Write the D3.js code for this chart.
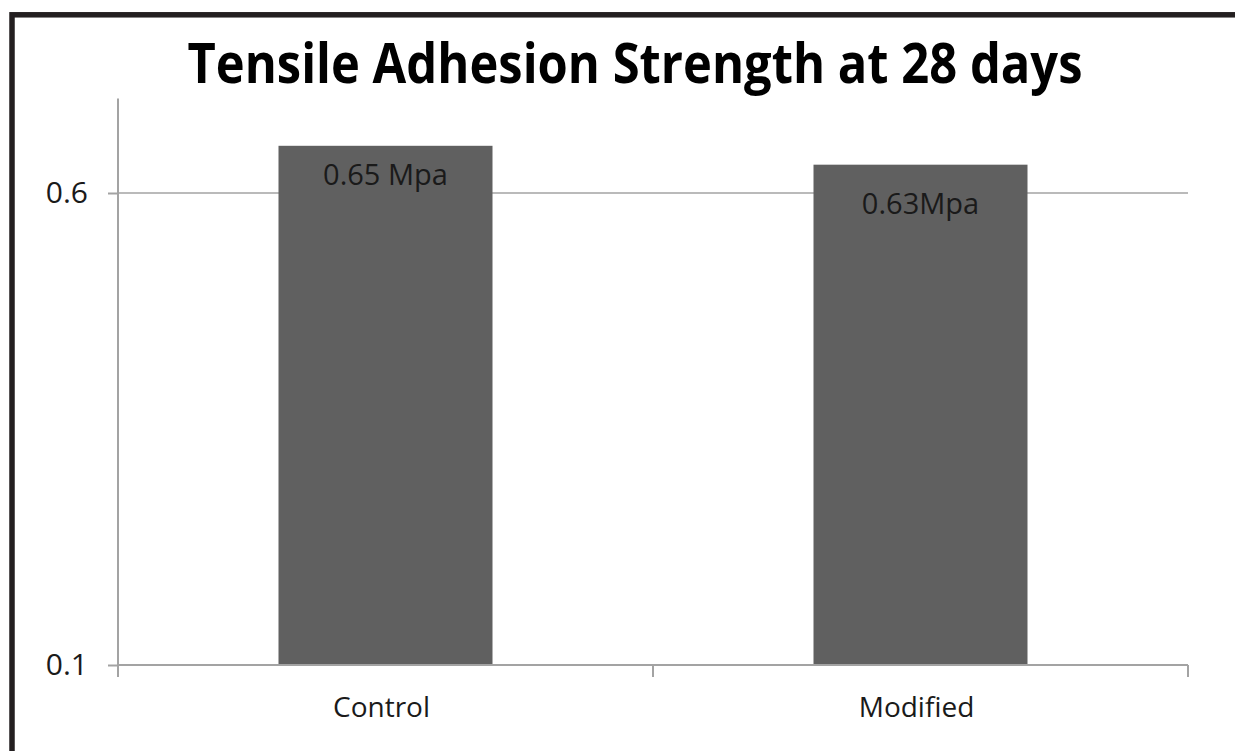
<!DOCTYPE html>
<html>
<head>
<meta charset="utf-8">
<script src="https://cdn.jsdelivr.net/npm/d3@7"></script>
<style>
  html, body { margin: 0; padding: 0; background: #ffffff; }
  svg { display: block; }
  text { font-family: "Open Sans", "Liberation Sans", sans-serif; }
</style>
</head>
<body>
<svg id="chart" width="1235" height="751"></svg>
<script>
// Tensile adhesion strength (MPa) after 28 days
const categories = ["Control", "Modified"];
const strengths = [0.65, 0.63];
const valueLabels = ["0.65 Mpa", "0.63Mpa"];
const yTicks = [0.1, 0.6];
const yDomain = [0.1, 0.7];
const titleText = "Tensile Adhesion Strength at 28 days";

const W = 1235, H = 751;
const plot = { left: 118, right: 1188, top: 98.6, bottom: 665 };

const svg = d3.select("#chart");

// Outer frame (runs past the right and bottom edges of the page)
svg.append("rect")
  .attr("x", 12).attr("y", 14.8)
  .attr("width", W + 20).attr("height", H + 20)
  .attr("fill", "none")
  .attr("stroke", "#231f20")
  .attr("stroke-width", 5.5);

// Title
svg.append("text")
  .attr("x", 635).attr("y", 83)
  .attr("text-anchor", "middle")
  .attr("font-size", 55)
  .attr("font-weight", 700)
  .attr("fill", "#000")
  .attr("textLength", 895)
  .attr("lengthAdjust", "spacingAndGlyphs")
  .text(titleText);

const x = d3.scaleBand()
  .domain(categories)
  .range([plot.left, plot.right])
  .paddingInner(0.6)
  .paddingOuter(0.3);

const y = d3.scaleLinear()
  .domain(yDomain)
  .range([plot.bottom, plot.top]);

const axisColor = "#a3a3a3";

// Horizontal gridlines (above the baseline)
svg.append("g")
  .selectAll("line")
  .data(yTicks.filter(t => t > yDomain[0]))
  .join("line")
  .attr("x1", plot.left).attr("x2", plot.right)
  .attr("y1", d => y(d)).attr("y2", d => y(d))
  .attr("stroke", axisColor)
  .attr("stroke-width", 1.5);

// Bars
svg.append("g")
  .selectAll("rect")
  .data(categories)
  .join("rect")
  .attr("x", d => x(d))
  .attr("width", x.bandwidth())
  .attr("y", (d, i) => y(strengths[i]))
  .attr("height", (d, i) => y(yDomain[0]) - y(strengths[i]))
  .attr("fill", "#606060");

// Value labels inside the bars
const labelDrop = [39, 49];
svg.append("g")
  .selectAll("text")
  .data(categories)
  .join("text")
  .attr("x", d => x(d) + x.bandwidth() / 2)
  .attr("y", (d, i) => y(strengths[i]) + labelDrop[i])
  .attr("text-anchor", "middle")
  .attr("font-size", 29)
  .attr("fill", "#1a1a1a")
  .text((d, i) => valueLabels[i]);

// Y axis
const yAxis = d3.axisLeft(y)
  .tickValues(yTicks)
  .tickSize(10)
  .tickPadding(20)
  .tickFormat(d3.format(".1f"));

const gy = svg.append("g")
  .attr("transform", `translate(${plot.left},0)`)
  .call(yAxis);
gy.select(".domain")
  .attr("d", `M0,${y(yDomain[1])}V${y(yDomain[0])}`)
  .attr("stroke", axisColor)
  .attr("stroke-width", 2);
gy.selectAll(".tick line").attr("stroke", axisColor).attr("stroke-width", 2);
gy.selectAll(".tick text")
  .attr("font-size", 30)
  .attr("fill", "#1a1a1a")
  .attr("font-family", "\"Open Sans\", sans-serif");

// X axis: baseline, category divider ticks and labels
const gx = svg.append("g").attr("transform", `translate(0,${plot.bottom})`);
gx.append("line")
  .attr("x1", plot.left).attr("x2", plot.right)
  .attr("y1", 0).attr("y2", 0)
  .attr("stroke", axisColor).attr("stroke-width", 2);

const dividers = d3.range(categories.length + 1).map(i => plot.left + i * (plot.right - plot.left) / categories.length);
gx.selectAll("line.divider")
  .data(dividers)
  .join("line")
  .attr("class", "divider")
  .attr("x1", d => d).attr("x2", d => d)
  .attr("y1", 0).attr("y2", 12)
  .attr("stroke", axisColor).attr("stroke-width", 2);

gx.selectAll("text")
  .data(categories)
  .join("text")
  .attr("x", d => x(d) + x.bandwidth() / 2 - 4)
  .attr("y", 52)
  .attr("text-anchor", "middle")
  .attr("font-size", 28)
  .attr("fill", "#1a1a1a")
  .text(d => d);
</script>
</body>
</html>
